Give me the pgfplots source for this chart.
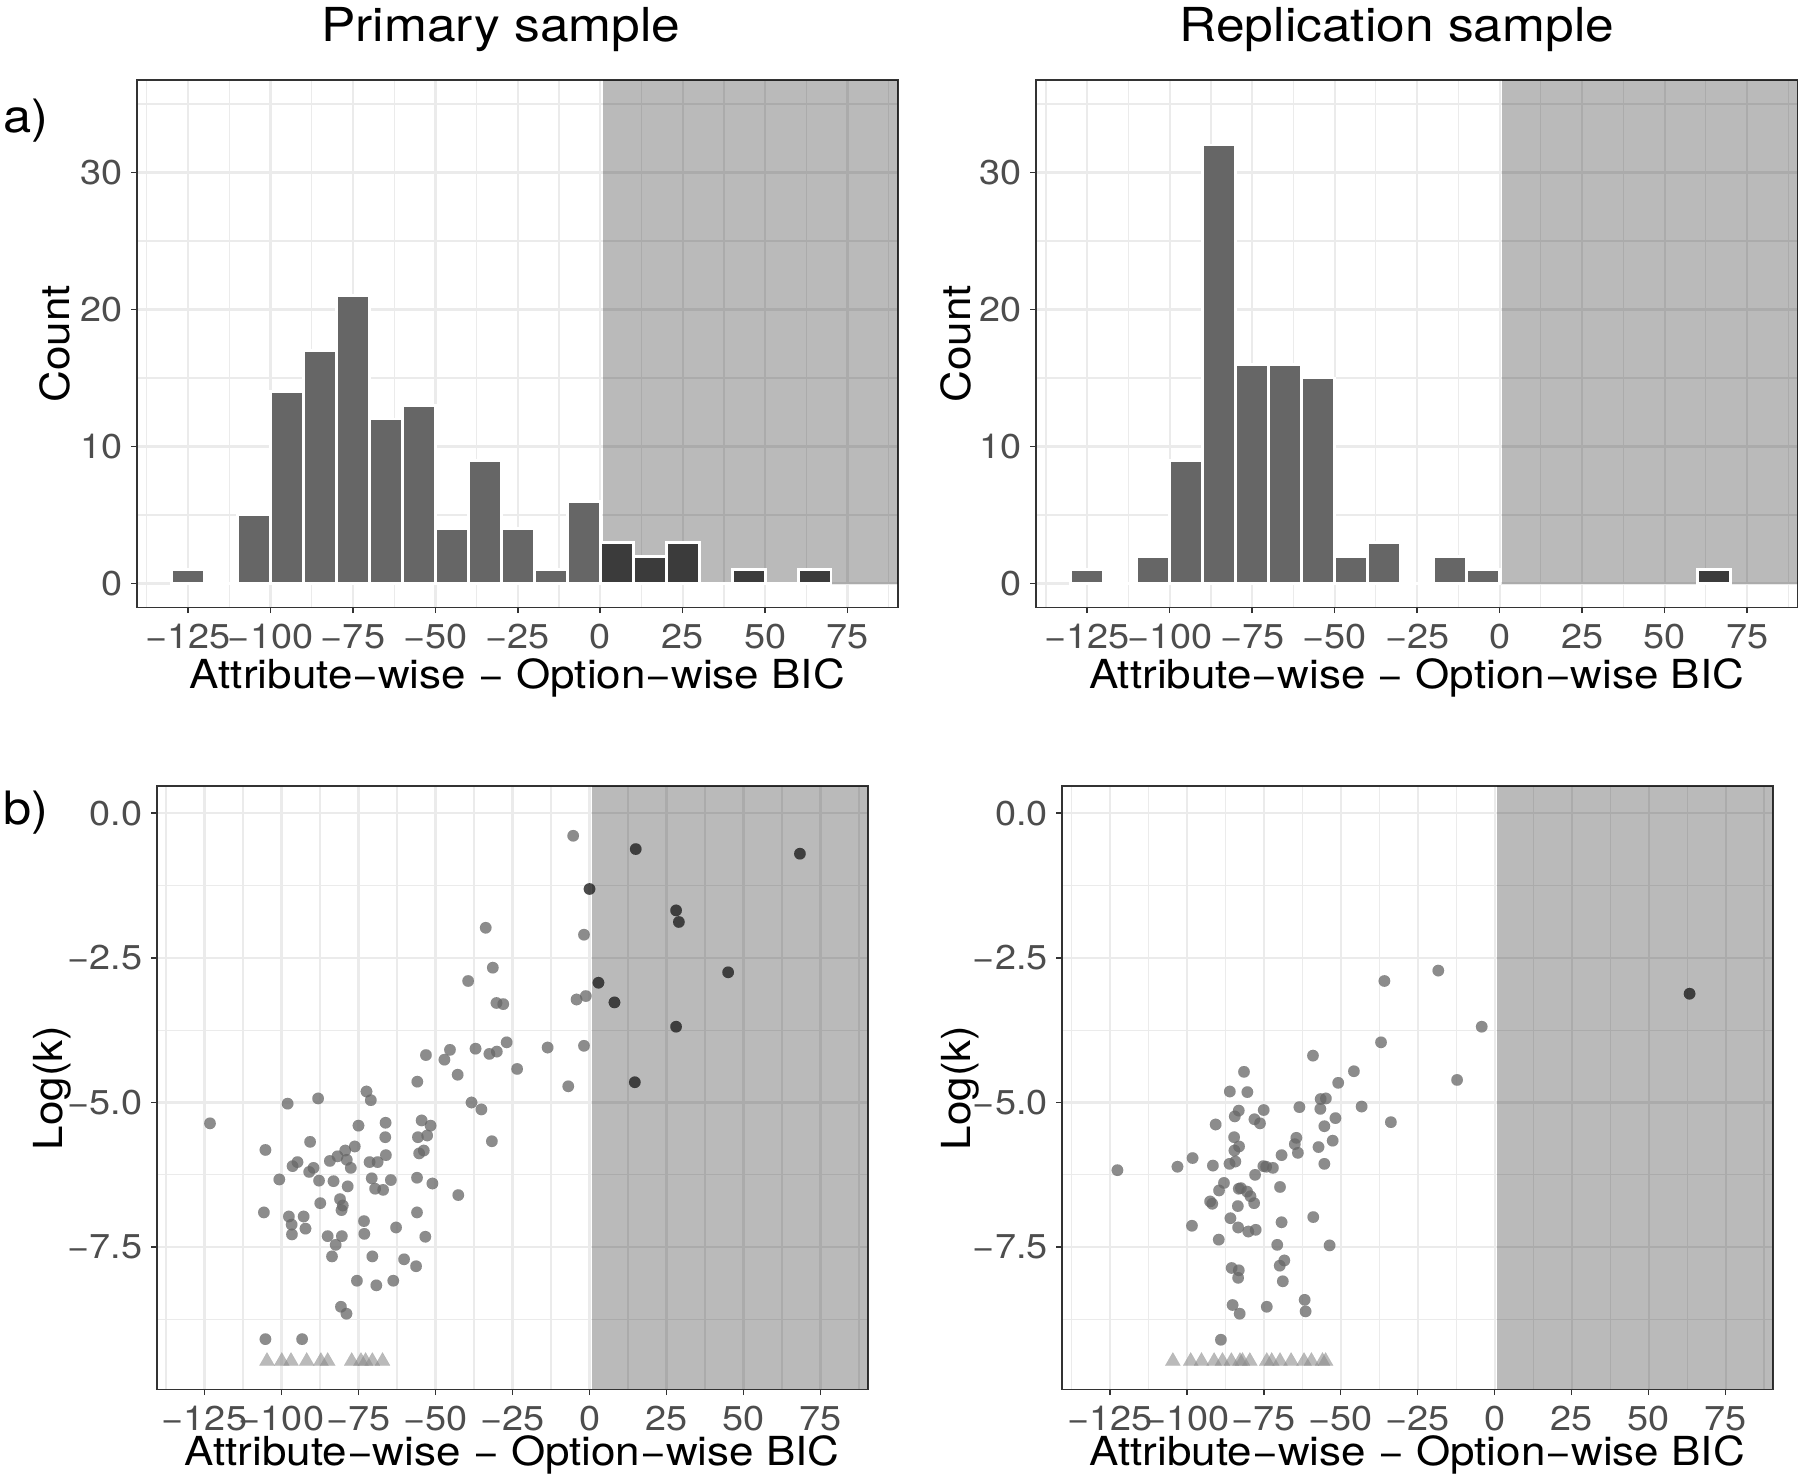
\documentclass[border=0pt]{standalone}
\usepackage{fontspec}
\setmainfont{TeX Gyre Heros}[FakeStretch=1.1]
\usepackage{pgfplots}
\pgfplotsset{compat=1.18}

\definecolor{gridc}{HTML}{EBEBEB}
\definecolor{framec}{HTML}{333333}
\definecolor{barc}{HTML}{666666}
\definecolor{bardark}{HTML}{3B3B3B}
\definecolor{ptdark}{HTML}{1F1F1F}
\definecolor{trc}{HTML}{8C8C8C}
\definecolor{ticklab}{HTML}{4D4D4D}
\newcommand\fs[1]{\fontsize{#1}{#1}\selectfont}

\pgfplotsset{
  panel/.style={
    scale only axis,
    anchor=south west,
    xmin=-140.5, xmax=90.3,
    xtick={-125,-100,-75,-50,-25,0,25,50,75},
    xticklabels={−125,−100,−75,−50,−25,0,25,50,75},
    minor xtick={-137.5,-112.5,-87.5,-62.5,-37.5,-12.5,12.5,37.5,62.5,87.5},
    grid=both,
    major grid style={draw=gridc, line width=0.55pt},
    minor grid style={draw=gridc, line width=0.3pt},
    minor tick length=0pt,
    major tick length=1.4pt,
    tick align=outside,
    tick pos=left,
    tick style={draw=framec, line width=0.4pt},
    axis line style={draw=framec, line width=0.4pt},
    tick label style={font=\fs{8.6}, text=ticklab, inner sep=0pt},
    xticklabel style={anchor=north, yshift=-2.6pt},
    yticklabel style={anchor=east, xshift=-2pt},
    label style={font=\fs{10}},
    xlabel={Attribute−wise − Option−wise BIC},
  },
  hist/.style={
    panel,
    height=131.875pt,
    ymin=-1.75, ymax=36.75,
    ytick={0,10,20,30}, yticklabels={0,10,20,30},
    minor ytick={5,15,25,35},
    ylabel={Count},
    every axis x label/.style={at={(axis description cs:0.5,0)}, anchor=base, yshift=-20.2pt},
  },
  scat/.style={
    panel,
    height=150.875pt,
    ymin=-9.96, ymax=0.47,
    ytick={-7.5,-5,-2.5,0}, yticklabels={−7.5,−5.0,−2.5,0.0},
    minor ytick={-8.75,-6.25,-3.75,-1.25},
    ylabel={Log(k)},
    every axis x label/.style={at={(axis description cs:0.5,0)}, anchor=base, yshift=-18.9pt},
  },
  shade/.style={draw=none, fill=black, fill opacity=0.27},
  bars/.style={ybar, bar width=10, bar shift=0pt, fill=#1, draw=white, line width=0.7pt},
  light/.style={only marks, mark=*, mark size=1.45pt,
    mark options={draw=barc, fill=barc, line width=0.01pt, opacity=0.75}},
  dark/.style={only marks, mark=*, mark size=1.45pt,
    mark options={draw=ptdark, fill=ptdark, line width=0.01pt, opacity=0.8}},
  tri/.style={only marks, mark=triangle*, mark size=2.2pt,
    mark options={draw=trc, fill=trc, line width=0.01pt, opacity=0.6}},
}

\begin{document}
\begin{tikzpicture}
\useasboundingbox (0,0) rectangle (450pt,369.75pt);

% a) primary sample
\begin{axis}[hist, at={(34.25pt,217.875pt)}, width=190.25pt,
    every axis y label/.style={at={(axis description cs:-0.108,0.5)}, rotate=90, anchor=center}]
  \addplot[shade] coordinates {(0.7,0) (90.3,0) (90.3,36.75) (0.7,36.75)} -- cycle;
  \addplot[bars=barc] coordinates {
    (-125,1) (-115,0) (-105,5) (-95,14) (-85,17) (-75,21) (-65,12)
    (-55,13) (-45,4) (-35,9) (-25,4) (-15,1) (-5,6)
  };
  \addplot[bars=bardark] coordinates {
    (5,3) (15,2) (25,3) (35,0) (45,1) (55,0) (65,1)
  };
\end{axis}

% a) replication sample
\begin{axis}[hist, at={(259pt,217.875pt)}, width=190.4pt,
    every axis y label/.style={at={(axis description cs:-0.105,0.5)}, rotate=90, anchor=center}]
  \addplot[shade] coordinates {(0.7,0) (90.3,0) (90.3,36.75) (0.7,36.75)} -- cycle;
  \addplot[bars=barc] coordinates {
    (-125,1) (-115,0) (-105,2) (-95,9) (-85,32) (-75,16) (-65,16)
    (-55,15) (-45,2) (-35,3) (-25,0) (-15,2) (-5,1)
  };
  \addplot[bars=bardark] coordinates {(65,1)};
\end{axis}

% b) primary sample
\begin{axis}[scat, at={(39.175pt,22.375pt)}, width=177.75pt,
    every axis y label/.style={at={(axis description cs:-0.147,0.5)}, rotate=90, anchor=center}]
  \addplot[shade] coordinates {(0.7,-9.96) (90.3,-9.96) (90.3,0.47) (0.7,0.47)} -- cycle;
  \addplot[light] coordinates {
    (-33.7,-1.98) (-31.4,-2.67) (-39.4,-2.90) (-30.2,-3.28) (-28.0,-3.30)
    (-26.9,-3.96) (-37.0,-4.07) (-32.5,-4.16) (-30.1,-4.12) (-45.3,-4.09)
    (-53.1,-4.18) (-47.1,-4.26) (-42.8,-4.52) (-55.9,-4.64) (-23.5,-4.42)
    (-72.4,-4.81) (-71.0,-4.96) (-88.1,-4.93) (-98.0,-5.02) (-38.3,-5.00)
    (-35.1,-5.12) (-123.2,-5.36) (-105.2,-5.82) (-90.7,-5.68) (-75.0,-5.40)
    (-66.2,-5.35) (-66.3,-5.60) (-66.1,-5.91) (-76.2,-5.76) (-79.3,-5.83)
    (-81.8,-5.93) (-84.3,-6.01) (-78.8,-5.99) (-77.5,-6.13) (-94.8,-6.03)
    (-96.4,-6.10) (-89.6,-6.13) (-91.0,-6.20) (-100.7,-6.33) (-87.8,-6.35)
    (-83.1,-6.36) (-78.5,-6.45) (-71.4,-6.03) (-68.8,-6.03) (-70.7,-6.31)
    (-69.6,-6.49) (-67.0,-6.51) (-64.5,-6.34) (-54.5,-5.31) (-51.6,-5.40)
    (-55.7,-5.60) (-52.7,-5.57) (-53.8,-5.83) (-55.3,-5.88) (-31.7,-5.67)
    (-56.0,-6.30) (-51.0,-6.40) (-42.6,-6.60) (-87.4,-6.74) (-81.0,-6.67)
    (-80.1,-6.78) (-80.5,-6.86) (-105.7,-6.90) (-97.6,-6.97) (-92.8,-6.97)
    (-96.7,-7.11) (-92.2,-7.18) (-96.6,-7.28) (-85.0,-7.31) (-80.4,-7.31)
    (-82.4,-7.46) (-83.6,-7.66) (-73.2,-7.05) (-73.1,-7.27) (-62.8,-7.16)
    (-56.0,-6.90) (-53.3,-7.32) (-70.5,-7.66) (-60.2,-7.71) (-56.3,-7.83)
    (-75.5,-8.08) (-69.2,-8.16) (-63.7,-8.08) (-80.7,-8.53) (-78.9,-8.65)
    (-105.2,-9.09) (-93.3,-9.09) (-5.3,-0.39) (-1.8,-2.10) (-4.2,-3.22)
    (-1.2,-3.16) (-13.6,-4.05) (-1.8,-4.02) (-6.9,-4.72)
  };
  \addplot[dark] coordinates {
    (0.0,-1.31) (2.9,-2.93) (8.1,-3.27) (14.7,-4.65) (15.0,-0.62)
    (28.1,-1.68) (29.0,-1.88) (28.1,-3.69) (45.0,-2.75) (68.3,-0.70)
  };
  \addplot[tri] coordinates {
    (-104.7,-9.47) (-99.9,-9.47) (-96.9,-9.47) (-91.8,-9.47) (-87.2,-9.47)
    (-85.0,-9.47) (-77.2,-9.47) (-74.2,-9.47) (-72.7,-9.47) (-70.5,-9.47)
    (-67.2,-9.47)
  };
\end{axis}

% b) replication sample
\begin{axis}[scat, at={(265.5pt,22.375pt)}, width=177.675pt,
    every axis y label/.style={at={(axis description cs:-0.143,0.5)}, rotate=90, anchor=center}]
  \addplot[shade] coordinates {(0.7,-9.96) (90.3,-9.96) (90.3,0.47) (0.7,0.47)} -- cycle;
  \addplot[light] coordinates {
    (-18.3,-2.72) (-35.8,-2.90) (-36.9,-3.96) (-59.0,-4.19) (-45.7,-4.46)
    (-50.8,-4.66) (-81.4,-4.47) (-86.0,-4.81) (-80.3,-4.82) (-56.5,-4.94)
    (-54.8,-4.93) (-83.1,-5.14) (-84.4,-5.24) (-75.0,-5.13) (-63.4,-5.08)
    (-56.6,-5.11) (-43.2,-5.07) (-33.7,-5.34) (-51.7,-5.27) (-55.3,-5.41)
    (-90.6,-5.38) (-78.0,-5.29) (-76.2,-5.36) (-64.4,-5.61) (-64.9,-5.72)
    (-63.9,-5.87) (-52.6,-5.66) (-57.2,-5.77) (-55.3,-6.06) (-84.6,-5.60)
    (-83.0,-5.76) (-84.5,-5.83) (-69.2,-5.91) (-98.1,-5.96) (-84.2,-6.02)
    (-86.1,-6.06) (-91.5,-6.09) (-103.0,-6.11) (-122.5,-6.17) (-75.1,-6.10)
    (-74.2,-6.11) (-72.0,-6.13) (-77.8,-6.25) (-87.9,-6.39) (-89.5,-6.52)
    (-83.1,-6.49) (-82.4,-6.48) (-80.4,-6.54) (-79.3,-6.62) (-78.1,-6.74)
    (-69.7,-6.46) (-92.4,-6.71) (-91.7,-6.75) (-83.4,-6.79) (-85.8,-7.00)
    (-98.3,-7.13) (-83.3,-7.16) (-80.0,-7.23) (-77.6,-7.20) (-69.2,-7.07)
    (-58.9,-6.98) (-89.6,-7.37) (-70.6,-7.46) (-53.6,-7.47) (-85.4,-7.86)
    (-83.1,-7.90) (-83.3,-8.03) (-69.8,-7.82) (-68.3,-7.73) (-68.8,-8.09)
    (-85.1,-8.50) (-82.8,-8.65) (-74.0,-8.53) (-61.7,-8.41) (-61.4,-8.61)
    (-88.9,-9.10) (-4.2,-3.69) (-12.2,-4.61)
  };
  \addplot[dark] coordinates {(63.3,-3.12)};
  \addplot[tri] coordinates {
    (-104.5,-9.47) (-98.7,-9.47) (-95.2,-9.47) (-91.1,-9.47) (-88.4,-9.47)
    (-85.5,-9.47) (-82.7,-9.47) (-81.9,-9.47) (-79.5,-9.47) (-74.0,-9.47)
    (-72.4,-9.47) (-69.7,-9.47) (-66.1,-9.47) (-61.9,-9.47) (-59.5,-9.47)
    (-55.9,-9.47) (-54.9,-9.47)
  };
\end{axis}

\node[anchor=base, font=\fs{11.7}] at (125.25pt,359.3pt) {Primary sample};
\node[anchor=base, font=\fs{11.7}] at (349.25pt,359.3pt) {Replication sample};
\node[anchor=base west, inner sep=0pt, font=\fs{11.5}] at (0.75pt,336.5pt) {a)};
\node[anchor=base west, inner sep=0pt, font=\fs{11.5}] at (0.75pt,163.5pt) {b)};
\end{tikzpicture}
\end{document}
